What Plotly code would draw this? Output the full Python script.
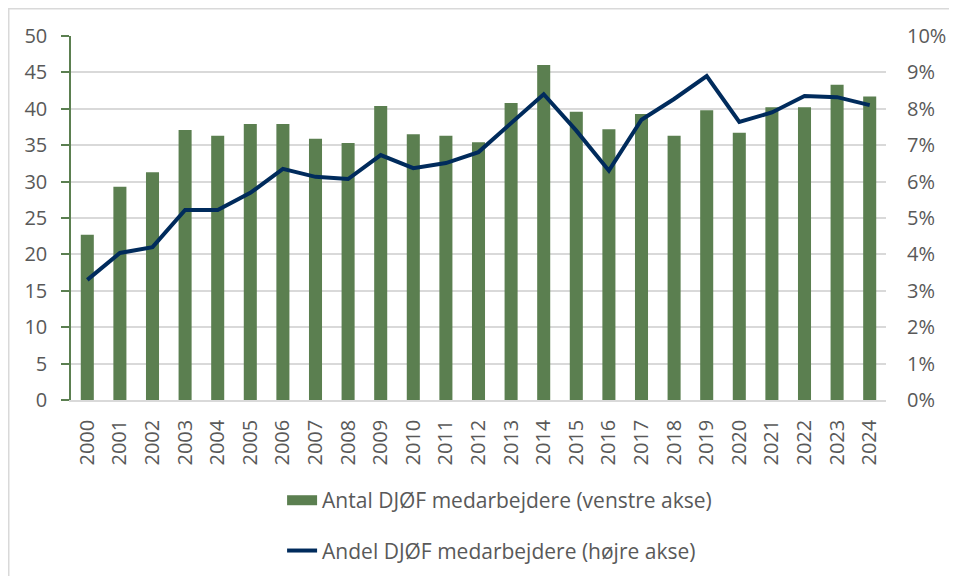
import plotly.graph_objects as go

years = [str(y) for y in range(2000, 2025)]
antal = [22.7, 29.3, 31.3, 37.1, 36.3, 37.9, 37.9, 35.9, 35.3, 40.4, 36.5, 36.3, 35.4,
         40.8, 46.0, 39.6, 37.2, 39.3, 36.3, 39.8, 36.7, 40.2, 40.2, 43.3, 41.7]
andel = [3.3, 4.04, 4.2, 5.22, 5.22, 5.69, 6.35, 6.13, 6.07, 6.73, 6.37, 6.51, 6.81,
         7.6, 8.4, 7.4, 6.3, 7.7, 8.27, 8.9, 7.64, 7.9, 8.35, 8.32, 8.1]
andel_frac = [v / 100 for v in andel]

left_ticks = list(range(0, 51, 5))
right_ticks = [i / 100 for i in range(0, 11)]

FONT = "Open Sans, Noto Sans, sans-serif"
TXT = "#595959"
GREEN = "#5B7F50"
NAVY = "#002B5C"
GRID = "#D9D9D9"

fig = go.Figure()
fig.add_trace(go.Bar(
    x=years, y=antal, name="Antal DJØF medarbejdere (venstre akse)",
    marker=dict(color=GREEN, line=dict(width=0)), yaxis="y", showlegend=False,
))
# legend entry for bars drawn as a wide swatch
fig.add_trace(go.Scatter(
    x=[None], y=[None], name="Antal DJØF medarbejdere (venstre akse)",
    mode="lines", line=dict(color=GREEN, width=12), yaxis="y", legendgroup="a",
))
fig.add_trace(go.Scatter(
    x=years, y=andel_frac, name="Andel DJØF medarbejdere (højre akse)",
    mode="lines", line=dict(color=NAVY, width=4), yaxis="y2", legendgroup="b",
))

fig.update_layout(
    width=949, height=568,
    margin=dict(l=63, r=71, t=28, b=176, autoexpand=False),
    paper_bgcolor="white", plot_bgcolor="white",
    font=dict(family=FONT, color=TXT, size=20),
    bargap=0.6,
    showlegend=True,
    legend=dict(
        orientation="v", x=0.259, xanchor="left", y=-0.22, yanchor="top",
        font=dict(size=21, color=TXT, family=FONT), tracegroupgap=20,
        bgcolor="rgba(0,0,0,0)",
    ),
    xaxis=dict(
        type="category", tickangle=-90, showgrid=False, showline=True,
        linecolor=GRID, linewidth=1.5, ticks="", tickfont=dict(size=20, color=TXT),
        zeroline=False, ticklabelstandoff=10,
    ),
    yaxis=dict(
        range=[0, 50], tickvals=left_ticks, showgrid=True, gridcolor=GRID, gridwidth=1.5,
        showline=True, linecolor=GREEN, linewidth=1.5, ticks="outside", ticklen=8,
        tickcolor=GREEN, tickwidth=1.5, tickfont=dict(size=20, color=TXT), zeroline=False,
        ticklabelstandoff=10,
    ),
    yaxis2=dict(
        range=[0, 0.10], tickvals=right_ticks, tickformat=".0%", overlaying="y",
        side="right", showgrid=False, showline=False, ticks="", zeroline=False,
        tickfont=dict(size=20, color=TXT), ticklabelstandoff=20,
    ),
    shapes=[dict(
        type="rect", xref="paper", yref="paper",
        x0=-62.25 / 815, x1=1.3, y0=-0.6, y1=1 + 27.25 / 364,
        line=dict(color=GRID, width=1.5), fillcolor="rgba(0,0,0,0)", layer="below",
    )],
)

fig.write_html("out.html")
